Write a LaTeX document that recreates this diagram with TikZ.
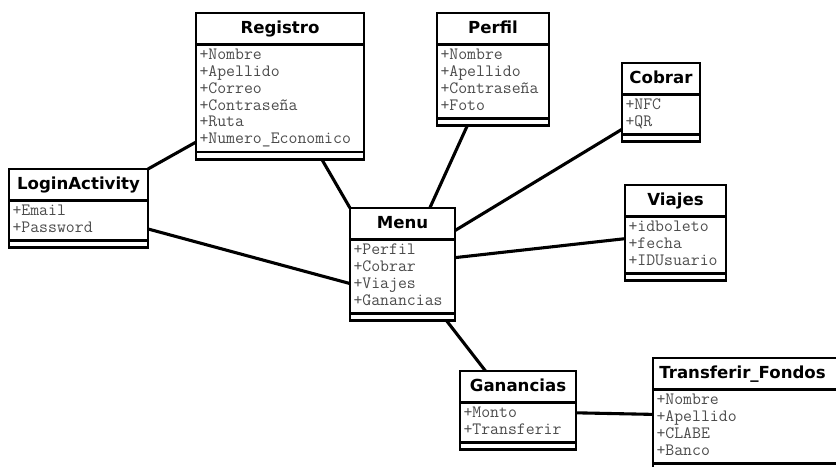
\documentclass[tikz,border=0pt]{standalone}
\usepackage{fontspec}
\usetikzlibrary{shapes.multipart,calc}
\newfontfamily\clsfont{DejaVu Sans}
\definecolor{attrgray}{gray}{0.3}
\newcommand{\clstitle}[1]{\rule[-5.4pt]{0pt}{17.8pt}{\clsfont\bfseries\fontsize{11.8}{14}\selectfont #1}}
\newcommand{\clsattrs}[1]{{\ttfamily\fontsize{12.3}{12.05}\selectfont\color{attrgray}%
  \begin{tabular}{@{}l@{}}#1\end{tabular}}}
\newcommand{\clsend}{\hspace*{0.01pt}\rule{0pt}{1pt}}
\tikzset{
  umlclass/.style={rectangle split, rectangle split parts=3,
    rectangle split part align={center,left,left},
    draw, line width=2pt, anchor=north west, outer sep=0pt,
    inner xsep=2.5pt, inner ysep=1.2pt, minimum width=#1*0.025cm},
  link/.style={line width=2.2pt}
}
\begin{document}
\begin{tikzpicture}[x=0.025cm,y=-0.025cm]
                \useasboundingbox (0,0) rectangle (836,467);
                \clip (0,0) rectangle (836,467);
                % classes
                \node[umlclass=168] (registro) at (196,13) {\clstitle{Registro}
                    \nodepart{two}\clsattrs{+Nombre\\+Apellido\\+Correo\\+Contraseña\\+Ruta\\+Numero\_Economico}
                    \nodepart{three}\clsend};
                \node[umlclass=112] (perfil) at (437,13) {\clstitle{Perfil}
                    \nodepart{two}\clsattrs{+Nombre\\+Apellido\\+Contraseña\\+Foto}
                    \nodepart{three}\clsend};
                \node[umlclass=78] (cobrar) at (622,63) {\clstitle{Cobrar}
                    \nodepart{two}\clsattrs{+NFC\\+QR}
                    \nodepart{three}\clsend};
                \node[umlclass=139] (login) at (9,169) {\clstitle{LoginActivity}
                    \nodepart{two}\clsattrs{+Email\\+Password}
                    \nodepart{three}\clsend};
                \node[umlclass=105] (menu) at (350,208) {\clstitle{Menu}
                    \nodepart{two}\clsattrs{+Perfil\\+Cobrar\\+Viajes\\+Ganancias}
                    \nodepart{three}\clsend};
                \node[umlclass=101] (viajes) at (625,185) {\clstitle{Viajes}
                    \nodepart{two}\clsattrs{+idboleto\\+fecha\\+IDUsuario}
                    \nodepart{three}\clsend};
                \node[umlclass=116] (ganancias) at (460,371) {\clstitle{Ganancias}
                    \nodepart{two}\clsattrs{+Monto\\+Transferir}
                    \nodepart{three}\clsend};
                \node[umlclass=220, rectangle split part align={left,left,left}] (transferir) at (653,358) {\clstitle{\hspace{2pt}Transferir\_Fondos}
                    \nodepart{two}\clsattrs{+Nombre\\+Apellido\\+CLABE\\+Banco}
                    \nodepart{three}\clsend};
                % associations
                \draw[link] ($(registro.north west)!0.88!(registro.south west)$) -- (login.north east);
                \draw[link] ($(registro.south west)!0.75!(registro.south east)$) -- (menu.north west);
                \draw[link] ($(login.north east)!0.76!(login.south east)$) -- ($(menu.north west)!0.67!(menu.south west)$);
                \draw[link] ($(perfil.south west)!0.27!(perfil.south east)$) -- ($(menu.north west)!0.76!(menu.north east)$);
                \draw[link] ($(cobrar.north west)!0.84!(cobrar.south west)$) -- ($(menu.north east)!0.2!(menu.south east)$);
                \draw[link] ($(viajes.north west)!0.56!(viajes.south west)$) -- ($(menu.north east)!0.44!(menu.south east)$);
                \draw[link] ($(menu.south west)!0.92!(menu.south east)$) -- ($(ganancias.north west)!0.22!(ganancias.north east)$);
                \draw[link] ($(ganancias.north east)!0.53!(ganancias.south east)$) -- (transferir.west);
            \end{tikzpicture}
\end{document}
